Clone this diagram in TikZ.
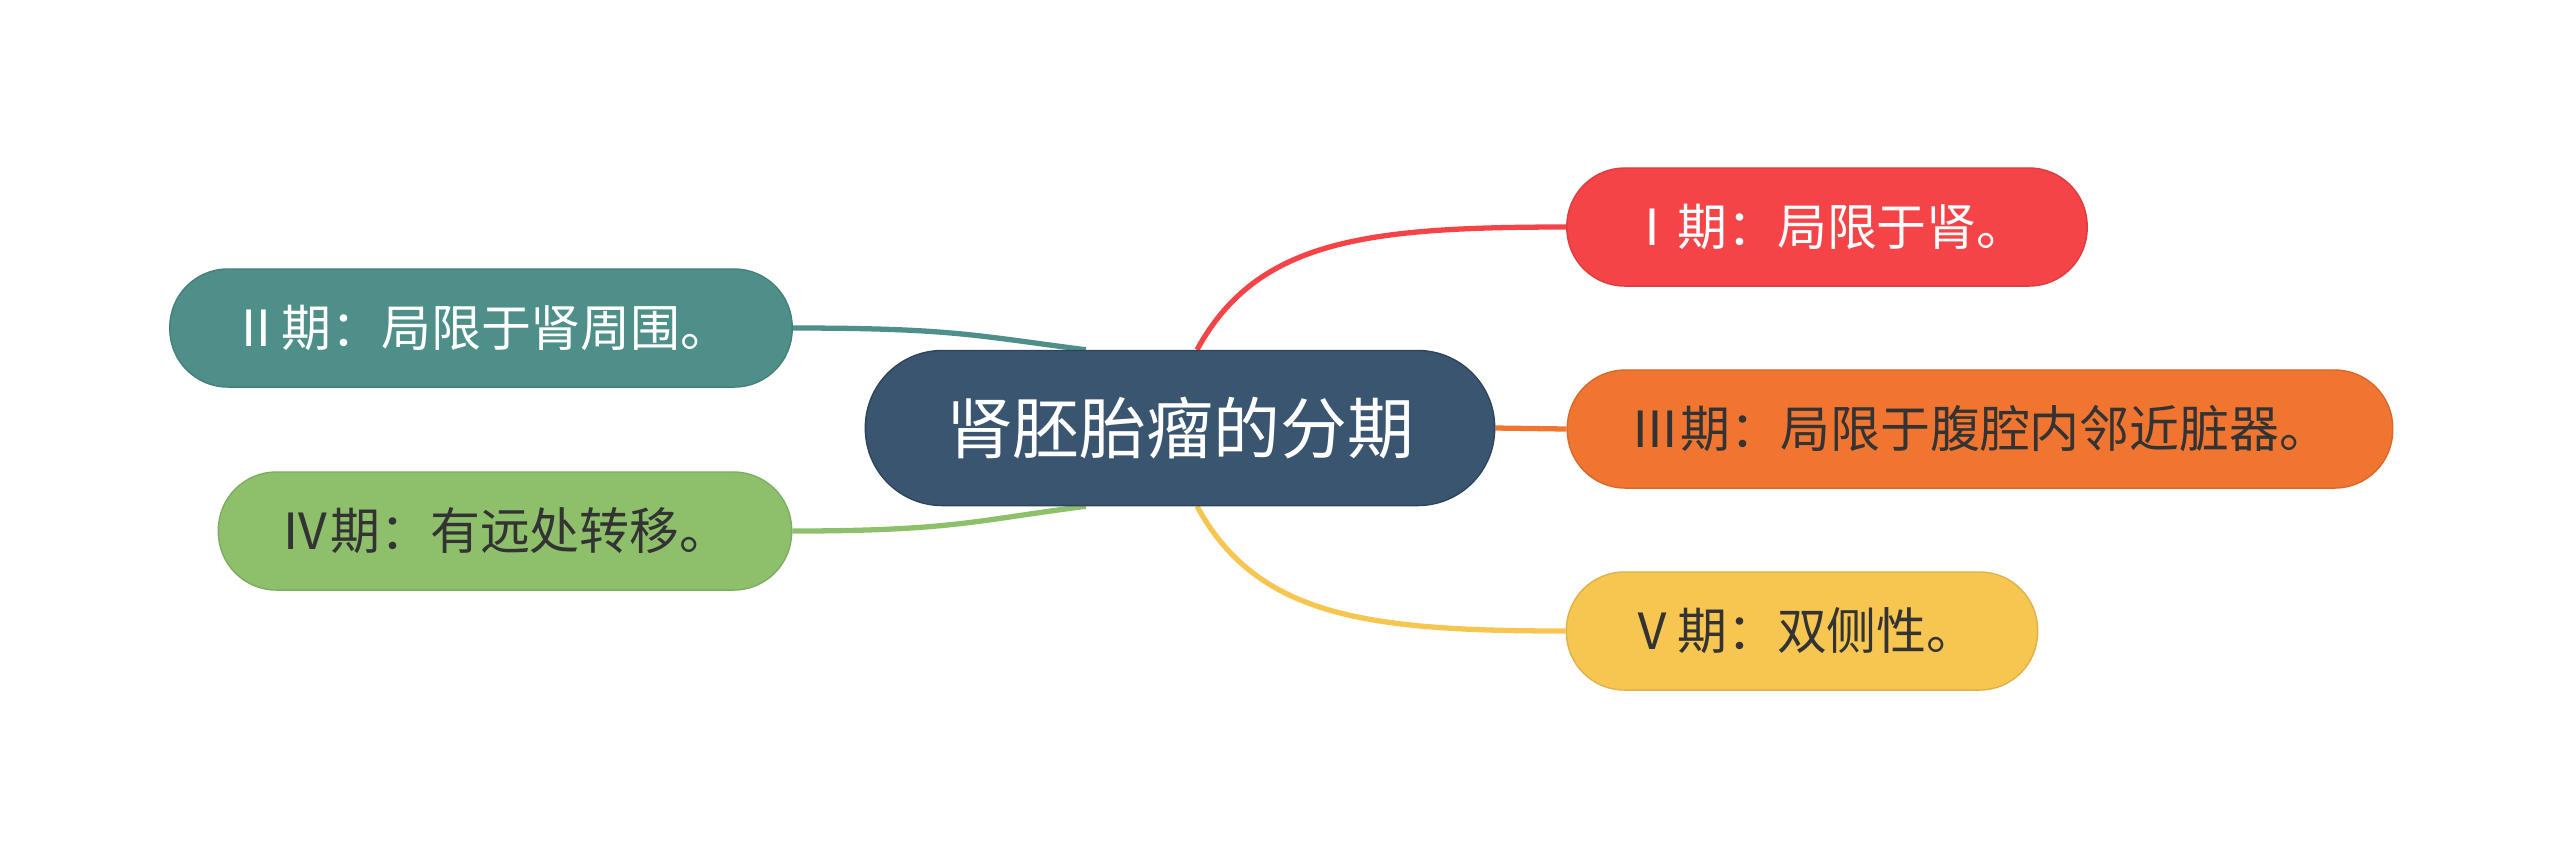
\documentclass[tikz,border=0pt]{standalone}
\usepackage{fontspec}
\usepackage{xcolor}
\usepackage{tikz}
\usetikzlibrary{backgrounds}
\newfontfamily\cjk{Noto Sans CJK SC}
\definecolor{rootc}{HTML}{3A5570}
\definecolor{redc}{HTML}{F44448}
\definecolor{orangec}{HTML}{F07530}
\definecolor{yellowc}{HTML}{F7C651}
\definecolor{tealc}{HTML}{4E8F8A}
\definecolor{greenc}{HTML}{8EBF6B}
\definecolor{ink}{HTML}{333333}
\tikzset{
  pill/.style={draw, rectangle, rounded corners=0.58cm, minimum height=1.18cm, inner sep=0pt,
    font=\cjk\fontsize{14.2pt}{17pt}\selectfont},
  rootbox/.style={pill, draw=rootc!80!black, fill=rootc, text=white, rounded corners=0.77cm,
    minimum height=1.55cm, minimum width=6.29cm, font=\cjk\fontsize{19pt}{22pt}\selectfont},
  lnk/.style={line width=1.5pt}
}
\begin{document}
\begin{tikzpicture}[x=0.01cm, y=-0.01cm]
\useasboundingbox (0,0) rectangle (2560,859);
\node[rootbox] (root) at (1180,428) {肾胚胎瘤的分期};
\node[pill, draw=redc!90!black, fill=redc, text=white, minimum width=5.2cm] (st1) at (1827,227) {Ⅰ期：局限于肾。};
\node[pill, draw=tealc!90!black, fill=tealc, text=white, minimum width=6.22cm] (st2) at (481,328) {Ⅱ期：局限于肾周围。};
\node[pill, draw=orangec!90!black, fill=orangec, text=ink, minimum width=8.25cm] (st3) at (1980,429) {Ⅲ期：局限于腹腔内邻近脏器。};
\node[pill, draw=greenc!90!black, fill=greenc, text=ink, minimum width=5.73cm] (st4) at (505,531) {Ⅳ期：有远处转移。};
\node[pill, draw=yellowc!90!black, fill=yellowc, text=ink, minimum width=4.71cm] (st5) at (1802,631) {Ⅴ期：双侧性。};
\begin{scope}[on background layer]
\draw[lnk, redc] ([xshift=0.17cm]root.north) .. controls +(60,-110) and +(-200,0) .. (st1.west);
\draw[lnk, orangec] (root.east) -- (st3.west);
\draw[lnk, yellowc] ([xshift=0.17cm]root.south) .. controls +(60,110) and +(-200,0) .. (st5.west);
\draw[lnk, tealc] (st2.east) .. controls +(160,0) and +(-110,-14) .. ([xshift=-0.94cm]root.north);
\draw[lnk, greenc] (st4.east) .. controls +(160,0) and +(-110,14) .. ([xshift=-0.94cm]root.south);
\end{scope}
\end{tikzpicture}
\end{document}
